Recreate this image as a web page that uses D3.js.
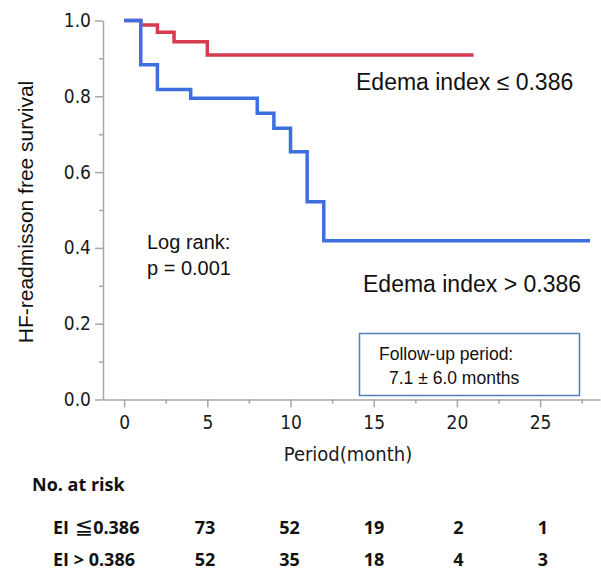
<!DOCTYPE html>
<html>
<head>
<meta charset="utf-8">
<script src="https://cdn.jsdelivr.net/npm/d3@7"></script>
<style>
  body { margin: 0; background: #fff; }
  svg { display: block; }
</style>
</head>
<body>
<svg id="km" width="601" height="573"></svg>
<script>
// Kaplan-Meier steps
const lowTimes = [0, 1, 2, 3, 5, 21];
const lowSurv = [1, 0.988, 0.969, 0.944, 0.909, 0.909];
const highTimes = [0, 1, 2, 4, 8, 9, 10, 11, 12, 28];
const highSurv = [1, 0.883, 0.818, 0.795, 0.755, 0.716, 0.654, 0.522, 0.419, 0.419];

const xTicks = [0, 5, 10, 15, 20, 25];
const xMinor = [2.5, 7.5, 12.5, 17.5, 22.5, 27.5];
const yTicks = [0, 0.2, 0.4, 0.6, 0.8, 1.0];
const yMinor = [0.1, 0.3, 0.5, 0.7, 0.9];

const riskTimes = [0, 5, 10, 15, 20];
const riskGroups = ["EI \u22660.386", "EI > 0.386"];
const riskLow = [73, 52, 19, 2, 1];
const riskHigh = [52, 35, 18, 4, 3];

const RED = "#d63b4f";
const BLUE = "#3d6fe0";
const AXIS = "#a6a6a6";
const TICKFONT = "'DejaVu Sans Condensed', 'DejaVu Sans', sans-serif";
const SANS = "'Liberation Sans', Arial, sans-serif";
const BOLD = "'Open Sans', 'DejaVu Sans', sans-serif";

const svg = d3.select("#km");

const x = d3.scaleLinear().domain([-1.27, 28.6]).range([103, 600]);
const y = d3.scaleLinear().domain([0, 1]).range([399.5, 20.5]);

// === Axes ===
const xAxisG = svg.append("g").attr("transform", `translate(0,${y(0)})`);
xAxisG.call(d3.axisBottom(x).tickValues(xTicks).tickSize(8).tickSizeOuter(0).tickFormat(d3.format("d")));
xAxisG.append("g").call(d3.axisBottom(x).tickValues(xMinor).tickSize(4).tickSizeOuter(0).tickFormat(""))
    .select(".domain").remove();

const yAxisG = svg.append("g").attr("transform", `translate(${x.range()[0]},0)`);
yAxisG.call(d3.axisLeft(y).tickValues(yTicks).tickSize(8).tickSizeOuter(0).tickFormat(d3.format(".1f")));
yAxisG.append("g").call(d3.axisLeft(y).tickValues(yMinor).tickSize(4).tickSizeOuter(0).tickFormat(""))
    .select(".domain").remove();

svg.selectAll(".domain").attr("stroke", AXIS).attr("stroke-width", 1.5);
svg.selectAll(".tick line").attr("stroke", AXIS).attr("stroke-width", 1.5);
xAxisG.selectAll(".tick text")
    .attr("y", 16).attr("dy", "0.71em")
    .style("font", `19px ${TICKFONT}`).attr("fill", "#1a1a1a");
yAxisG.selectAll(".tick text")
    .attr("x", -12)
    .style("font", `19px ${TICKFONT}`).attr("fill", "#1a1a1a");

svg.append("text")
    .attr("x", 348).attr("y", 461)
    .attr("text-anchor", "middle")
    .style("font", `20px ${TICKFONT}`).attr("fill", "#1a1a1a")
    .text("Period(month)");

svg.append("text")
    .attr("transform", `translate(33,${(y(0) + y(1)) / 2 + 2}) rotate(-90)`)
    .attr("text-anchor", "middle")
    .style("font", `21px ${SANS}`).attr("fill", "#111")
    .text("HF-readmisson free survival");

// === Curves ===
const line = d3.line()
    .x(d => x(d[0]))
    .y(d => y(d[1]))
    .curve(d3.curveStepAfter);

svg.append("path")
    .datum(d3.zip(lowTimes, lowSurv))
    .attr("fill", "none").attr("stroke", RED).attr("stroke-width", 3.5)
    .attr("d", line);

svg.append("path")
    .datum(d3.zip(highTimes, highSurv))
    .attr("fill", "none").attr("stroke", BLUE).attr("stroke-width", 3.5)
    .attr("d", line);

// === Annotations ===
svg.append("text")
    .attr("x", 356).attr("y", 90)
    .style("font", `23px ${SANS}`).attr("fill", "#111")
    .text("Edema index \u2264 0.386");

svg.append("text")
    .attr("x", 363).attr("y", 292)
    .style("font", `23px ${SANS}`).attr("fill", "#111")
    .text("Edema index > 0.386");

const logRank = svg.append("text")
    .style("font", `20px ${SANS}`).attr("fill", "#111");
logRank.append("tspan").attr("x", 147).attr("y", 249).text("Log rank:");
logRank.append("tspan").attr("x", 147).attr("y", 275).text("p = 0.001");

svg.append("rect")
    .attr("x", 359.5).attr("y", 333.5)
    .attr("width", 220).attr("height", 62)
    .attr("fill", "#fff").attr("stroke", "#4f7fc0").attr("stroke-width", 1.5);

const follow = svg.append("text")
    .style("font", `17.5px ${SANS}`).attr("fill", "#111");
follow.append("tspan").attr("x", 379).attr("y", 360).text("Follow-up period:");
follow.append("tspan").attr("x", 389).attr("y", 384).text("7.1 \u00b1 6.0 months");

// === Number at risk table ===
const col = d3.scalePoint().domain(riskTimes).range([205, 543]);
const rowY = d3.scalePoint().domain(riskGroups).range([534, 566]);

svg.append("text")
    .attr("x", 32).attr("y", 491)
    .style("font", `bold 18px ${BOLD}`).attr("fill", "#111")
    .text("No. at risk");

const rows = svg.selectAll("g.risk")
    .data([riskLow, riskHigh].map((vals, i) => ({ name: riskGroups[i], vals })))
    .join("g").attr("class", "risk")
    .attr("transform", d => `translate(0,${rowY(d.name)})`);

// row label; the "≦" sign is drawn larger, as in the original
rows.append("text")
    .attr("x", 53)
    .style("font", `bold 18px ${BOLD}`).attr("fill", "#111")
    .each(function (d) {
        const t = d3.select(this);
        const parts = d.name.split(/(\u2266)/);
        parts.forEach(p => {
            if (!p) return;
            const s = t.append("tspan").text(p);
            if (p === "\u2266") s.style("font", "22px 'DejaVu Sans', sans-serif").attr("dx", 1);
        });
    });

rows.selectAll("text.n")
    .data(d => d.vals.map((v, i) => ({ t: riskTimes[i], v })))
    .join("text").attr("class", "n")
    .attr("x", d => col(d.t))
    .attr("text-anchor", "middle")
    .style("font", `bold 18px ${BOLD}`).attr("fill", "#111")
    .text(d => d.v);
</script>
</body>
</html>
